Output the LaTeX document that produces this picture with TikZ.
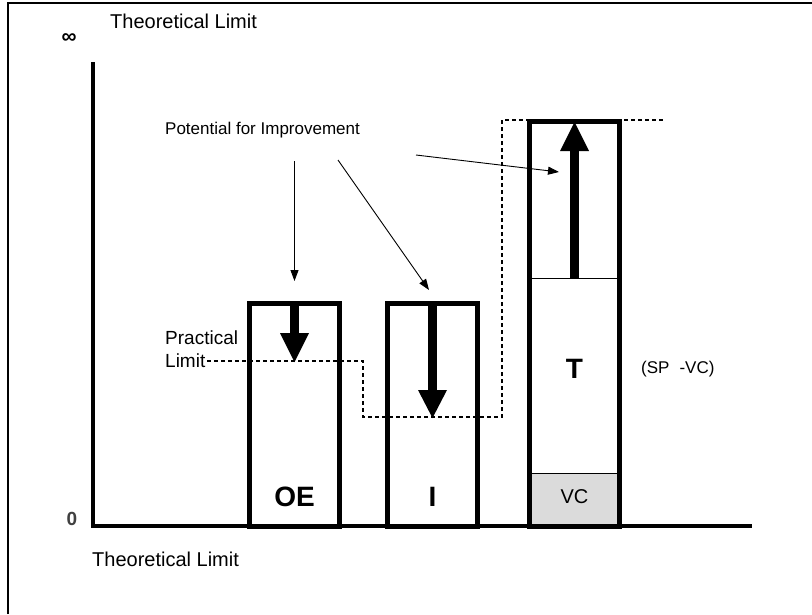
\documentclass[tikz,border=0pt]{standalone}
\usepackage{fontspec}
\setmainfont{Liberation Sans}
\usetikzlibrary{arrows.meta}
\begin{document}
\begin{tikzpicture}[x=1pt,y=-1pt,
  lbl/.style={font=\fontsize{20}{24}\selectfont, inner sep=0pt},
  sml/.style={font=\fontsize{17}{20}\selectfont, inner sep=0pt},
  big/.style={font=\fontsize{28}{32}\selectfont\bfseries, inner sep=0pt},
  bar/.style={draw, line width=5pt, minimum width=90pt, outer sep=0pt, inner sep=0pt, anchor=south},
  axisline/.style={line width=4pt, line join=miter},
  pointer/.style={line width=0.9pt, -{Triangle[length=11pt,width=8pt]}},
  fatfill/.style={fill=black},
  limline/.style={line width=1.4pt, dash pattern=on 4pt off 3pt}
]
\useasboundingbox (0,0) rectangle (812,614);
\fill[white] (0,0) rectangle (812,614);
\draw[line width=2pt] (8,614) -- (8,3) -- (812,3);

% bars
\node[bar, minimum height=223pt] (OE) at (294.5,526) {};
\node[bar, minimum height=223pt] (I) at (432.5,526) {};
\node[draw, line width=0.8pt, fill=black!14, minimum width=90pt, minimum height=53pt,
      outer sep=0pt, inner sep=0pt, anchor=south] (VC) at (574.5,526) {};
\node[bar, minimum height=405pt] (T) at (574.5,526) {};
\coordinate (Tsplit) at (574.5,278);
\draw[line width=0.8pt] (T.west |- Tsplit) -- (T.east |- Tsplit);

% practical limit (dashed)
\coordinate (d0) at (207,361);
\coordinate (d1) at (363,361);
\coordinate (d2) at (363,417);
\coordinate (d3) at (502,417);
\coordinate (d4) at (502,120);
\coordinate (d5) at (663,120);
\draw[limline] (d0) -- (d1) -- (d2) -- (d3) -- (d4) -- (d5);

% thick arrows
\fill[fatfill] (290,303) rectangle (299,334);
\fill[fatfill] (280,333) -- (309,333) -- (294.5,362) -- cycle;
\fill[fatfill] (428,303) rectangle (437,391);
\fill[fatfill] (418,390) -- (447,390) -- (432.5,418) -- cycle;
\fill[fatfill] (570,278) rectangle (579,150);
\fill[fatfill] (560,151) -- (589,151) -- (574.5,122) -- cycle;

% axes
\coordinate (O) at (93,526);
\coordinate (Ytop) at (93,62);
\coordinate (Xend) at (752,526);
\draw[axisline] (Ytop) -- (O) -- (Xend);

% labels
\node[font=\fontsize{21}{24}\selectfont\bfseries, inner sep=0pt] (inf) at (69,39) {∞};
\node[font=\fontsize{19}{22}\selectfont\bfseries, text=black!75, inner sep=0pt] (zero) at (72,519) {0};
\node[lbl, anchor=west] (thtop) at (110,21) {Theoretical Limit};
\node[lbl, anchor=west] (thbot) at (92,559) {Theoretical Limit};
\node[sml, anchor=west] (pot) at (165,130) {Potential for Improvement};
\node[font=\fontsize{19}{23}\selectfont, inner sep=0pt, anchor=west, align=left] (prac) at (165,349) {Practical\\Limit};
\node[big] (OElbl) at (294.5,497) {OE};
\node[big] (Ilbl) at (432.5,497) {I};
\node[big] (Tlbl) at (574.5,369) {T};
\node[lbl] (VClbl) at (574.5,497) {VC};
\node[sml, anchor=west] (sp) at (641,369) {(SP\hspace{10pt}-VC)};

% pointers
\coordinate (p1s) at (294.5,161);
\coordinate (p1e) at (294.5,281);
\coordinate (p2s) at (338,160);
\coordinate (p2e) at (429,290);
\coordinate (p3s) at (416,155);
\coordinate (p3e) at (559,172);
\draw[pointer] (p1s) -- (p1e);
\draw[pointer] (p2s) -- (p2e);
\draw[pointer] (p3s) -- (p3e);
\end{tikzpicture}
\end{document}
